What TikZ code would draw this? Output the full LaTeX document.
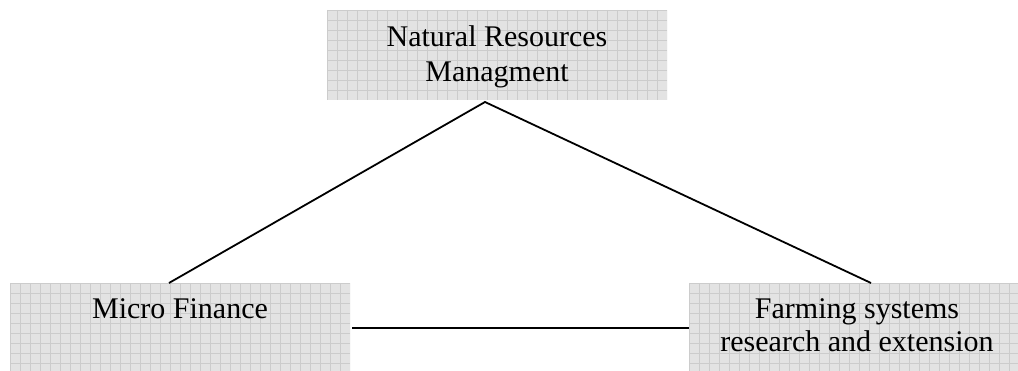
\documentclass[tikz,border=0pt]{standalone}
\usepackage{fontspec}
\setmainfont{Liberation Serif}
\begin{document}
\begin{tikzpicture}[x=1pt,y=-1pt,
  boxtext/.style={align=center,font=\fontsize{30}{35}\selectfont,inner sep=0pt},
  gridline/.style={gray!40,line width=0.8pt},
  link/.style={line width=1.8pt,black}]
\useasboundingbox (0,0) rectangle (1018,371);
% grid-filled boxes
\foreach \xa/\ya/\xb/\yb in {327/10/667/100, 10/283/350/375, 689/283/1025/375}{
  \fill[gray!22] (\xa,\ya) rectangle (\xb,\yb);
  \begin{scope}
    \clip (\xa,\ya) rectangle (\xb,\yb);
    \foreach \gx in {0,10,...,340}{
      \draw[gridline] (\xa+\gx,\ya) -- (\xa+\gx,\yb);
    }
    \foreach \gy in {0,10,...,100}{
      \draw[gridline] (\xa,\ya+\gy) -- (\xb,\ya+\gy);
    }
  \end{scope}
}
\node[boxtext,anchor=base] (nrm) at (497,47) {Natural Resources};
\node[boxtext,anchor=base] (nrm2) at (497,82) {Managment};
\node[boxtext,anchor=base] (mf) at (180,319) {Micro Finance};
\node[boxtext,anchor=base] (fs) at (857,319) {Farming systems};
\node[boxtext,anchor=base] (fs2) at (857,352) {research and extension};
\coordinate (apex) at (485,102);
\coordinate (mftop) at (169,283);
\coordinate (fstop) at (871,283);
\coordinate (mfright) at (352,328);
\coordinate (fsleft) at (689,328);
\draw[link] (mftop) -- (apex) -- (fstop);
\draw[link] (mfright) -- (fsleft);
\end{tikzpicture}
\end{document}
